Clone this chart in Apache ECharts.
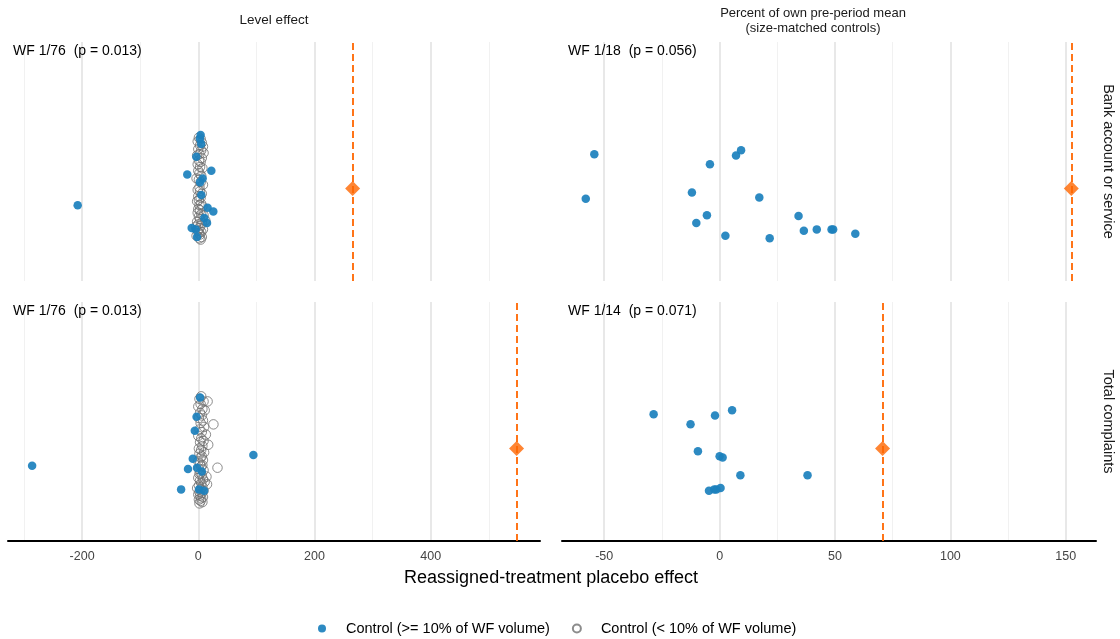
<!DOCTYPE html>
<html>
<head>
<meta charset="utf-8">
<script src="https://cdn.jsdelivr.net/npm/echarts@6/dist/echarts.min.js"></script>
<style>
html,body{margin:0;padding:0;background:#fff;}
#chart{width:1120px;height:639px;}
</style>
</head>
<body>
<div id="chart"></div>
<script>
// ---------------- DATA ----------------
const columnTitles = ["Level effect", "Percent of own pre-period mean\n(size-matched controls)"];
const rowTitles = ["Bank account or service", "Total complaints"];
const panelNotes = ["WF 1/76  (p = 0.013)", "WF 1/18  (p = 0.056)", "WF 1/76  (p = 0.013)", "WF 1/14  (p = 0.071)"];
const observedEffect = [265.6, 152.4, 547.7, 70.6];
const xTitle = "Reassigned-treatment placebo effect";
const seriesNames = ["Control (>= 10% of WF volume)", "Control (< 10% of WF volume)"];

const levelTicks = [-200, 0, 200, 400];
const levelMinor = [-300, -100, 100, 300, 500];
const pctTicks = [-50, 0, 50, 100, 150];
const pctMinor = [-25, 25, 75, 125];

// [effect, jitter]
const levelBankHi = [[2.9,1.39],[5,1.35],[-3.4,1.25],[-19,1.11],[22.4,1.14],[7.5,1.08],[3,1.05],[5.2,0.95],[16,0.85],[25.8,0.82],[10.3,0.77],[15,0.73],[-11.4,0.69],[-4.5,0.68],[-2.2,0.62],[-207.6,0.87],[4,1.42]];
const levelBankLo = [[1,1.40],[4,1.39],[-1,1.37],[6,1.36],[3,1.34],[8,1.33],[0,1.31],[5,1.30],[9,1.28],[2,1.27],[-2,1.26],[6,1.24],[1,1.22],[4,1.21],[-1,1.19],[3,1.17],[7,1.16],[0,1.14],[2,1.12],[5,1.10],[-3,1.08],[1,1.07],[4,1.05],[8,1.03],[2,1.01],[-1,0.99],[3,0.98],[6,0.96],[0,0.94],[4,0.93],[1,0.91],[-2,0.90],[5,0.88],[2,0.87],[7,0.86],[0,0.84],[3,0.83],[-1,0.81],[5,0.80],[9,0.79],[1,0.78],[3,0.76],[12,0.75],[-2,0.74],[6,0.73],[0,0.72],[4,0.71],[-4,0.70],[2,0.69],[8,0.68],[-1,0.67],[5,0.66],[1,0.65],[3,0.64],[-3,0.63],[6,0.62],[2,0.61],[4,0.60]];
const levelTotalHi = [[3,1.40],[-3,1.25],[-6,1.14],[-9.5,0.92],[-17.7,0.84],[6,0.82],[-2.2,0.85],[-29.6,0.68],[10,0.67],[1.2,0.68],[94.8,0.95],[-286,0.865]];
const levelTotalLo = [[5,1.41],[2,1.39],[9,1.37],[16,1.37],[4,1.35],[0,1.33],[7,1.31],[11,1.30],[3,1.28],[6,1.26],[1,1.24],[8,1.22],[26,1.19],[4,1.20],[10,1.17],[2,1.15],[6,1.13],[13,1.11],[0,1.10],[5,1.08],[9,1.06],[3,1.05],[17,1.03],[7,1.02],[1,1.00],[5,0.99],[10,0.97],[2,0.96],[6,0.94],[4,0.93],[8,0.91],[0,0.90],[3,0.88],[7,0.87],[33,0.85],[5,0.86],[1,0.84],[9,0.83],[4,0.81],[2,0.80],[14,0.78],[6,0.79],[0,0.77],[8,0.76],[3,0.75],[11,0.74],[15,0.72],[5,0.73],[1,0.71],[7,0.70],[-2,0.69],[4,0.68],[9,0.67],[2,0.66],[6,0.65],[0,0.64],[3,0.63],[8,0.62],[5,0.61],[1,0.60],[4,0.59],[7,0.58],[2,0.57]];
const pctBankHi = [[-54.3,1.27],[-58.0,0.92],[-4.2,1.19],[7.1,1.26],[9.3,1.30],[-12.0,0.97],[17.2,0.93],[-5.5,0.79],[-10.1,0.73],[2.5,0.63],[21.7,0.61],[34.2,0.785],[36.5,0.67],[42.1,0.68],[48.5,0.68],[49.2,0.68],[58.8,0.645]];
const pctTotalHi = [[-28.6,1.27],[-2.0,1.26],[5.4,1.30],[-12.6,1.19],[-9.4,0.98],[0.0,0.94],[1.3,0.93],[9.0,0.79],[38.1,0.79],[-4.6,0.67],[-2.3,0.68],[-1.4,0.68],[0.4,0.69]];

// ---------------- STYLE ----------------
const FONT = "Liberation Sans, Arial, sans-serif";
const BLUE = "#1b80bd";
const GREY = "#6f6f6f";
const ORANGE = "#ff6600";
const Y_MIN = 0.275, Y_MAX = 2.15;

const grids = [
  {left: 8, top: 42, width: 532, height: 239},
  {left: 562, top: 42, width: 534, height: 239},
  {left: 8, top: 302, width: 532, height: 239},
  {left: 562, top: 302, width: 534, height: 239}
];
const xRanges = [[-327.5, 588], [-68.3, 163.1], [-327.5, 588], [-68.3, 163.1]];
const majorTicks = [levelTicks, pctTicks, levelTicks, pctTicks];
const minorTicks = [levelMinor, pctMinor, levelMinor, pctMinor];
const hiData = [levelBankHi, pctBankHi, levelTotalHi, pctTotalHi];
const loData = [levelBankLo, null, levelTotalLo, null];

const xAxis = grids.map((g, i) => ({
  type: 'value', gridIndex: i, min: xRanges[i][0], max: xRanges[i][1],
  splitLine: {show: false}, axisTick: {show: false}, z: 3,
  axisLine: {show: i >= 2, onZero: false, lineStyle: {color: '#000', width: 2}},
  axisLabel: {show: i >= 2, customValues: majorTicks[i], margin: 9, fontSize: 12.5, color: '#444', fontFamily: FONT}
}));
const yAxis = grids.map((g, i) => ({
  type: 'value', gridIndex: i, min: Y_MIN, max: Y_MAX, show: false,
  splitLine: {show: false}
}));

const series = [];
grids.forEach((g, i) => {
  // gridlines
  series.push({
    type: 'scatter', xAxisIndex: i, yAxisIndex: i, data: [], silent: true, z: 0,
    markLine: {
      z: 0, silent: true, symbol: ['none', 'none'], label: {show: false}, animation: false,
      data: majorTicks[i].map(v => ({xAxis: v, lineStyle: {color: '#e3e3e3', width: 1.6, type: 'solid'}}))
        .concat(minorTicks[i].map(v => ({xAxis: v, lineStyle: {color: '#f1f1f1', width: 1, type: 'solid'}})))
    }
  });
  if (loData[i]) {
    series.push({
      name: seriesNames[1], type: 'scatter', xAxisIndex: i, yAxisIndex: i, z: 3,
      symbol: 'circle', symbolSize: 9.5, data: loData[i],
      itemStyle: {color: 'rgba(255,255,255,0)', borderColor: GREY, borderWidth: 1}
    });
  }
  series.push({
    name: seriesNames[0], type: 'scatter', xAxisIndex: i, yAxisIndex: i, z: 4,
    symbol: 'circle', symbolSize: 8.5, data: hiData[i],
    itemStyle: {color: BLUE, opacity: 0.92}
  });
  series.push({
    name: 'Observed', type: 'scatter', xAxisIndex: i, yAxisIndex: i, z: 6,
    symbol: 'diamond', symbolSize: [15, 15], data: [[observedEffect[i], 1]],
    itemStyle: {color: ORANGE},
    markLine: {
      z: 5, silent: true, symbol: ['none', 'none'], label: {show: false}, animation: false,
      lineStyle: {color: ORANGE, width: 1.8, type: [7, 4]},
      data: [{xAxis: observedEffect[i]}]
    }
  });
});

const graphic = [];
// column titles
graphic.push({type: 'text', z: 10, style: {text: columnTitles[0], x: 274, y: 20, align: 'center', verticalAlign: 'middle', font: '13.5px ' + FONT, fill: '#1a1a1a'}});
graphic.push({type: 'text', z: 10, style: {text: columnTitles[1], x: 813, y: 20.5, align: 'center', verticalAlign: 'middle', font: '13px ' + FONT, lineHeight: 15, fill: '#1a1a1a'}});
// row strip titles
rowTitles.forEach((t, r) => {
  const cy = grids[r * 2].top + grids[r * 2].height / 2;
  graphic.push({type: 'text', z: 10, x: 1108, y: cy, rotation: -Math.PI / 2,
    style: {text: t, x: 0, y: 0, align: 'center', verticalAlign: 'middle', font: '14.5px ' + FONT, fill: '#1a1a1a'}});
});
// panel notes
panelNotes.forEach((t, i) => {
  graphic.push({type: 'text', z: 10, style: {text: t, x: grids[i].left + 5 + (i % 2 ? 1 : 0), y: grids[i].top + 9, align: 'left', verticalAlign: 'middle', font: '14px ' + FONT, fill: '#000'}});
});
// x axis title
graphic.push({type: 'text', z: 10, style: {text: xTitle, x: 551, y: 578, align: 'center', verticalAlign: 'middle', font: '18px ' + FONT, fill: '#000'}});

const chart = echarts.init(document.getElementById('chart'), null, {renderer: 'canvas'});
chart.setOption({
  animation: false,
  backgroundColor: '#fff',
  grid: grids,
  xAxis: xAxis,
  yAxis: yAxis,
  series: series,
  graphic: graphic,
  legend: {
    data: seriesNames, left: 313, top: 616, itemWidth: 8, itemHeight: 8, itemGap: 22,
    selectedMode: false,
    textStyle: {fontSize: 14.5, color: '#000', fontFamily: FONT, padding: [0, 0, 0, 15]}
  }
});
</script>
</body>
</html>
